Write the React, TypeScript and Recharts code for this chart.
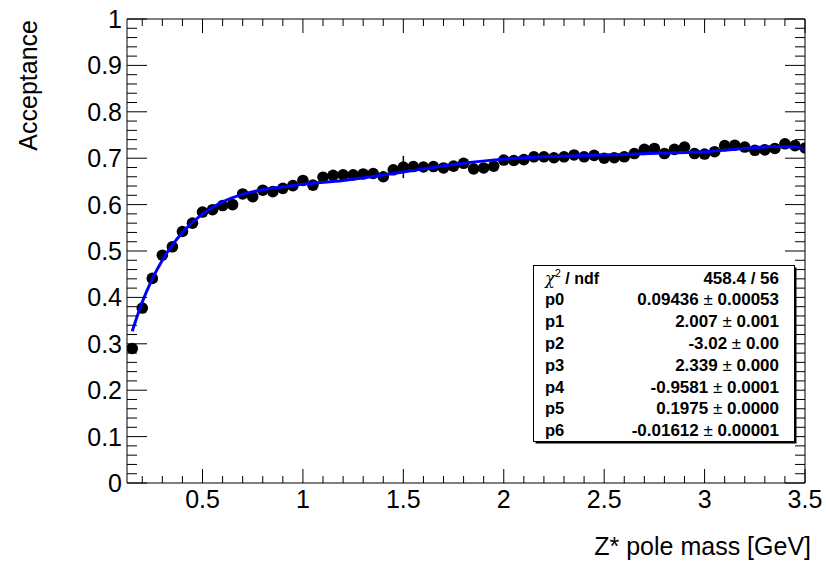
import React from 'react';
import { ScatterChart, Scatter, XAxis, YAxis, ErrorBar } from 'recharts';

const massBins = [
  0.15, 0.2, 0.25, 0.3, 0.35, 0.4, 0.45, 0.5, 0.55, 0.6, 0.65, 0.7, 0.75, 0.8, 0.85, 0.9, 0.95,
  1.0, 1.05, 1.1, 1.15, 1.2, 1.25, 1.3, 1.35, 1.4, 1.45, 1.5, 1.55, 1.6, 1.65, 1.7, 1.75, 1.8,
  1.85, 1.9, 1.95, 2.0, 2.05, 2.1, 2.15, 2.2, 2.25, 2.3, 2.35, 2.4, 2.45, 2.5, 2.55, 2.6, 2.65,
  2.7, 2.75, 2.8, 2.85, 2.9, 2.95, 3.0, 3.05, 3.1, 3.15, 3.2, 3.25, 3.3, 3.35, 3.4, 3.45, 3.5,
];
const acceptance = [
  0.290, 0.377, 0.441, 0.491, 0.509, 0.542, 0.560, 0.584, 0.589, 0.598, 0.600, 0.623, 0.617,
  0.631, 0.628, 0.635, 0.641, 0.652, 0.642, 0.659, 0.663, 0.664, 0.664, 0.666, 0.667, 0.660,
  0.675, 0.681, 0.682, 0.681, 0.682, 0.679, 0.683, 0.689, 0.677, 0.679, 0.683, 0.696, 0.695,
  0.697, 0.703, 0.703, 0.701, 0.703, 0.707, 0.703, 0.706, 0.700, 0.701, 0.703, 0.710, 0.719,
  0.721, 0.710, 0.719, 0.724, 0.710, 0.709, 0.714, 0.727, 0.728, 0.724, 0.717, 0.718, 0.721,
  0.731, 0.727, 0.722,
];
const acceptanceErr = [
  0, 0, 0, 0, 0, 0, 0, 0, 0, 0, 0, 0, 0, 0, 0, 0, 0, 0, 0, 0, 0, 0, 0, 0, 0, 0, 0, 0.024, 0, 0,
  0, 0, 0, 0, 0, 0, 0, 0, 0, 0, 0, 0, 0, 0, 0, 0, 0, 0, 0, 0, 0, 0, 0, 0, 0, 0, 0, 0, 0, 0, 0, 0,
  0, 0, 0, 0, 0, 0,
];

const fitMass = [
  0.15, 0.2, 0.25, 0.3, 0.35, 0.4, 0.5, 0.6, 0.7, 0.8, 0.9, 1.0, 1.2, 1.4, 1.6, 1.8, 2.0, 2.2,
  2.4, 2.6, 2.8, 3.0, 3.2, 3.35, 3.45, 3.5,
];
const fitAcceptance = [
  0.327, 0.390, 0.440, 0.480, 0.513, 0.540, 0.580, 0.606, 0.622, 0.632, 0.638, 0.644, 0.652,
  0.664, 0.677, 0.689, 0.698, 0.703, 0.706, 0.708, 0.711, 0.714, 0.721, 0.725, 0.724, 0.718,
];

const xMajorTicks = [0.5, 1, 1.5, 2, 2.5, 3, 3.5];
const xTickLabels = ['0.5', '1', '1.5', '2', '2.5', '3', '3.5'];
const yMajorTicks = [0, 0.1, 0.2, 0.3, 0.4, 0.5, 0.6, 0.7, 0.8, 0.9, 1];
const yTickLabels = ['0', '0.1', '0.2', '0.3', '0.4', '0.5', '0.6', '0.7', '0.8', '0.9', '1'];

const statsHeader = ['χ', '2', ' / ndf', '458.4 / 56'];
const statsNames = ['p0', 'p1', 'p2', 'p3', 'p4', 'p5', 'p6'];
const statsValues = ['0.09436', '2.007', '-3.02', '2.339', '-0.9581', '0.1975', '-0.01612'];
const statsErrors = ['0.00053', '0.001', '0.00', '0.000', '0.0001', '0.0000', '0.00001'];

const xTitle = 'Z* pole mass [GeV]';
const yTitle = 'Acceptance';

const FONT = '"Liberation Sans", Arial, Helvetica, sans-serif';
const W = 826;
const H = 563;
const X_DOMAIN: [number, number] = [0.124, 3.5];
const Y_DOMAIN: [number, number] = [0, 1];

const xTicksAll: number[] = [];
for (let i = 2; i <= 35; i++) xTicksAll.push(i / 10);
const yTicksAll: number[] = [];
for (let i = 0; i <= 50; i++) yTicksAll.push(i / 50);

const majorIndex = (v: number, majors: number[]) =>
  majors.findIndex((m) => Math.abs(m - v) < 1e-6);

const pointData = massBins.map((m, i) => ({ mass: m, acc: acceptance[i], err: acceptanceErr[i] }));
const fitData = fitMass.map((m, i) => ({ mass: m, acc: fitAcceptance[i] }));

const X_MAJOR = 14;
const X_MINOR = 7;
const Y_MAJOR = 20;
const Y_MINOR = 10;

const BottomTick = (props: any) => {
  const { x, y, payload } = props;
  const idx = majorIndex(payload.value, xMajorTicks);
  const len = idx >= 0 ? X_MAJOR : X_MINOR;
  return (
    <g>
      <line x1={x} y1={y} x2={x} y2={y - len} stroke="#000" strokeWidth={1} />
      {idx >= 0 && (
        <text x={x} y={y + 25} textAnchor="middle" fontSize={25} fontFamily={FONT} fill="#000">
          {xTickLabels[idx]}
        </text>
      )}
    </g>
  );
};

const TopTick = (props: any) => {
  const { x, y, payload } = props;
  const idx = majorIndex(payload.value, xMajorTicks);
  const len = idx >= 0 ? X_MAJOR : X_MINOR;
  return <line x1={x} y1={y} x2={x} y2={y + len} stroke="#000" strokeWidth={1} />;
};

const LeftTick = (props: any) => {
  const { x, y, payload } = props;
  const idx = majorIndex(payload.value, yMajorTicks);
  const len = idx >= 0 ? Y_MAJOR : Y_MINOR;
  return (
    <g>
      <line x1={x} y1={y} x2={x + len} y2={y} stroke="#000" strokeWidth={1} />
      {idx >= 0 && (
        <text x={x - 5} y={y + 9} textAnchor="end" fontSize={25} fontFamily={FONT} fill="#000">
          {yTickLabels[idx]}
        </text>
      )}
    </g>
  );
};

const RightTick = (props: any) => {
  const { x, y, payload } = props;
  const idx = majorIndex(payload.value, yMajorTicks);
  const len = idx >= 0 ? Y_MAJOR : Y_MINOR;
  return <line x1={x} y1={y} x2={x - len} y2={y} stroke="#000" strokeWidth={1} />;
};

const Dot = (props: any) => {
  const { cx, cy } = props;
  if (cx == null || cy == null) return <g />;
  return <circle cx={cx} cy={cy} r={5.8} fill="#000" />;
};

const NoDot = () => <g />;

const StatsBox = () => {
  const left = 533.5;
  const top = 265.5;
  const w = 261;
  const h = 176;
  const xl = 545;
  const xr = 779;
  const base0 = 283.5;
  const step = 21.8;
  return (
    <svg
      width={W}
      height={H}
      style={{ position: 'absolute', left: 0, top: 0, pointerEvents: 'none' }}
    >
      <rect x={left + 2} y={top + 2} width={w} height={h} fill="#000" />
      <rect x={left} y={top} width={w} height={h} fill="#fff" stroke="#000" strokeWidth={1} />
      <text x={xl} y={base0} fontSize={16} fontFamily={FONT} fill="#000">
        <tspan fontFamily="'DejaVu Serif', serif" fontStyle="italic">{statsHeader[0]}</tspan>
        <tspan fontSize={11} dy={-7}>{statsHeader[1]}</tspan>
        <tspan dy={7} fontWeight="bold">{statsHeader[2]}</tspan>
      </text>
      <text x={xr} y={base0} textAnchor="end" fontSize={17} fontWeight="bold" fontFamily={FONT} fill="#000">
        {statsHeader[3]}
      </text>
      {statsNames.map((n, i) => {
        const yb = base0 + step * (i + 1);
        return (
          <g key={n}>
            <text x={xl} y={yb} fontSize={16.5} fontWeight="bold" fontFamily={FONT} fill="#000">
              {n}
            </text>
            <text x={xr} y={yb} textAnchor="end" fontSize={17} fontFamily={FONT} fill="#000">
              <tspan fontWeight="bold">{statsValues[i]}</tspan>
              <tspan fontWeight="normal">{' ± '}</tspan>
              <tspan fontWeight="bold">{statsErrors[i]}</tspan>
            </text>
          </g>
        );
      })}
    </svg>
  );
};

const Titles = () => (
  <svg
    width={W}
    height={H}
    style={{ position: 'absolute', left: 0, top: 0, pointerEvents: 'none' }}
  >
    <text x={811} y={555} textAnchor="end" fontSize={25} fontFamily={FONT} fill="#000">
      {xTitle}
    </text>
    <text
      x={37}
      y={20}
      textAnchor="end"
      fontSize={25}
      fontFamily={FONT}
      fill="#000"
      transform="rotate(-90, 37, 20)"
    >
      {yTitle}
    </text>
  </svg>
);

export default function App() {
  return (
    <div style={{ position: 'absolute', left: 0, top: 0, width: W, height: H, background: '#fff' }}>
      <ScatterChart
        width={W}
        height={H}
        margin={{ top: 18, right: 20, bottom: 79, left: 126 }}
      >
        <XAxis
          xAxisId="b"
          type="number"
          dataKey="mass"
          domain={X_DOMAIN}
          allowDataOverflow
          ticks={xTicksAll}
          interval={0}
          height={1}
          tickSize={0}
          tickMargin={0}
          tickLine={false}
          tick={<BottomTick />}
          axisLine={{ stroke: '#000', strokeWidth: 1 }}
          orientation="bottom"
        />
        <XAxis
          xAxisId="t"
          type="number"
          dataKey="mass"
          domain={X_DOMAIN}
          allowDataOverflow
          ticks={xTicksAll}
          interval={0}
          height={1}
          tickSize={0}
          tickMargin={0}
          tickLine={false}
          tick={<TopTick />}
          axisLine={{ stroke: '#000', strokeWidth: 1 }}
          orientation="top"
        />
        <YAxis
          yAxisId="l"
          type="number"
          dataKey="acc"
          domain={Y_DOMAIN}
          allowDataOverflow
          ticks={yTicksAll}
          interval={0}
          width={1}
          tickSize={0}
          tickMargin={0}
          tickLine={false}
          tick={<LeftTick />}
          axisLine={{ stroke: '#000', strokeWidth: 1 }}
          orientation="left"
        />
        <YAxis
          yAxisId="r"
          type="number"
          dataKey="acc"
          domain={Y_DOMAIN}
          allowDataOverflow
          ticks={yTicksAll}
          interval={0}
          width={1}
          tickSize={0}
          tickMargin={0}
          tickLine={false}
          tick={<RightTick />}
          axisLine={{ stroke: '#000', strokeWidth: 1 }}
          orientation="right"
        />
        <Scatter
          xAxisId="b"
          yAxisId="l"
          data={pointData}
          dataKey="acc"
          shape={<Dot />}
          isAnimationActive={false}
        >
          <ErrorBar dataKey="err" direction="y" width={0} stroke="#000" strokeWidth={1.5} />
        </Scatter>
        <Scatter
          xAxisId="b"
          yAxisId="l"
          data={fitData}
          dataKey="acc"
          line={{ stroke: '#0000ff', strokeWidth: 3 }}
          lineJointType="monotoneX"
          shape={<NoDot />}
          isAnimationActive={false}
        />
      </ScatterChart>
      <StatsBox />
      <Titles />
    </div>
  );
}
